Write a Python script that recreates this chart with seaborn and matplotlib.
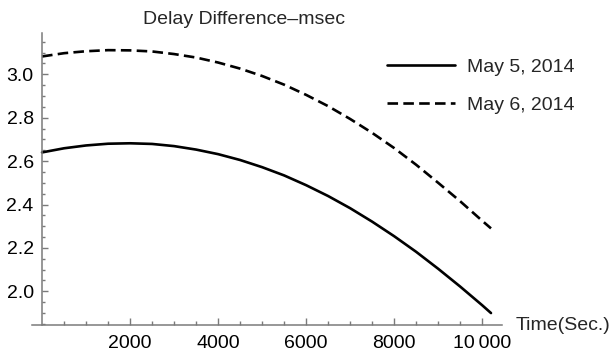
import matplotlib
matplotlib.use("Agg")
import matplotlib.pyplot as plt
import seaborn as sns
import pandas as pd
from matplotlib.ticker import FixedLocator

# ---- data ----
time_sec = [0, 500, 1000, 1500, 2000, 2500, 3000, 3500, 4000, 4500, 5000, 5500,
            6000, 6500, 7000, 7500, 8000, 8500, 9000, 9500, 10000, 10200]
may5 = [2.640, 2.659, 2.672, 2.680, 2.682, 2.679, 2.669, 2.653, 2.632, 2.605, 2.572, 2.534,
        2.489, 2.439, 2.383, 2.321, 2.254, 2.182, 2.104, 2.022, 1.936, 1.900]
may6 = [3.082, 3.097, 3.106, 3.111, 3.110, 3.105, 3.093, 3.077, 3.054, 3.026, 2.992, 2.952,
        2.905, 2.853, 2.794, 2.730, 2.660, 2.583, 2.500, 2.415, 2.325, 2.290]
series_labels = ["May 5, 2014", "May 6, 2014"]
x_ticks = [2000, 4000, 6000, 8000, 10000]
x_tick_labels = ["2000", "4000", "6000", "8000", "10\u2009000"]
y_ticks = [2.0, 2.2, 2.4, 2.6, 2.8, 3.0]
y_tick_labels = ["2.0", "2.2", "2.4", "2.6", "2.8", "3.0"]
title = "Delay Difference\u2013msec"
x_label = "Time(Sec.)"

df = pd.DataFrame({
    "t": time_sec + time_sec,
    "v": may5 + may6,
    "day": [series_labels[0]] * len(time_sec) + [series_labels[1]] * len(time_sec),
})

sns.set_theme(style="white")
plt.rcParams["font.family"] = ["Liberation Sans", "DejaVu Sans"]

W, H = 615, 354
fig = plt.figure(figsize=(W / 100, H / 100), dpi=100)
ax_left, ax_right, ax_top, ax_bottom = 31.7, 502, 33, 325
ax = fig.add_axes([ax_left / W, 1 - ax_bottom / H, (ax_right - ax_left) / W, (ax_bottom - ax_top) / H])

sns.lineplot(data=df, x="t", y="v", style="day",
             dashes={series_labels[0]: "", series_labels[1]: (4, 2)},
             color="black", linewidth=1.9, ax=ax, legend=True)

ax.set_xlim(-235, 10450)
ax.set_ylim(1.845, 3.19)

axis_col = "#7a7a7a"
for s in ["top", "right"]:
    ax.spines[s].set_visible(False)
ax.spines["left"].set_position(("data", 0))
for s in ["left", "bottom"]:
    ax.spines[s].set_color(axis_col)
    ax.spines[s].set_linewidth(1.1)

ax.xaxis.set_major_locator(FixedLocator(x_ticks))
ax.set_xticklabels(x_tick_labels)
ax.xaxis.set_minor_locator(FixedLocator([500 * i for i in range(1, 21) if (500 * i) % 2000 != 0]))
ax.yaxis.set_major_locator(FixedLocator(y_ticks))
ax.set_yticklabels(y_tick_labels)
ax.yaxis.set_minor_locator(FixedLocator([round(1.85 + 0.05 * i, 2) for i in range(0, 27)
                                         if round(1.85 + 0.05 * i, 2) not in y_ticks]))

ax.tick_params(axis="x", which="major", direction="in", length=5, width=1.0, color=axis_col,
               labelsize=14, pad=7, labelcolor="black", bottom=True)
ax.tick_params(axis="x", which="minor", direction="in", length=3, width=1.0, color=axis_col, bottom=True)
ax.tick_params(axis="y", which="major", direction="in", length=4, width=1.0, color=axis_col,
               labelsize=14, pad=6, labelcolor="black", left=True)
ax.tick_params(axis="y", which="minor", direction="in", length=2, width=1.0, color=axis_col, left=True)

ax.set_xlabel("")
ax.set_ylabel("")

leg = ax.legend(loc="upper left", bbox_to_anchor=(387 / W, 1 - 58 / H), bbox_transform=fig.transFigure,
                frameon=False, fontsize=14, handlelength=3.5, handletextpad=0.6, labelspacing=1.05,
                borderaxespad=0, borderpad=0)
for line in leg.get_lines():
    line.set_linewidth(1.9)

fig.text(244 / W, 1 - 19 / H, title, ha="center", va="center", fontsize=14)
fig.text(516 / W, 1 - 325 / H, x_label, ha="left", va="center", fontsize=14)

fig.savefig("out.png", dpi=100, facecolor="white")
